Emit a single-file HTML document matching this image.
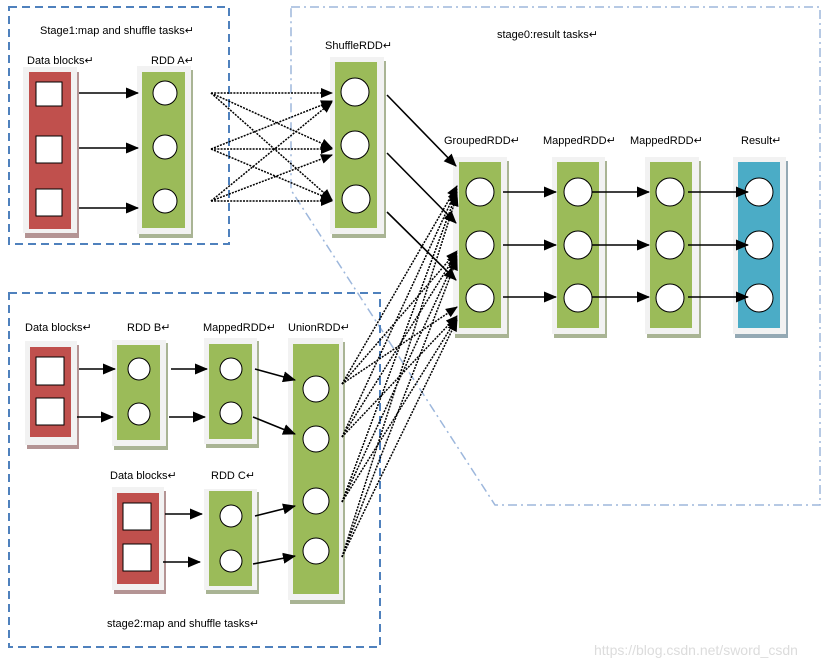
<!DOCTYPE html>
<html><head><meta charset="utf-8"><style>
html,body{margin:0;padding:0;background:#fff;}
svg{display:block;}
text{font-family:"Liberation Sans",sans-serif;font-size:11px;fill:#000;}
</style></head><body>
<svg width="832" height="667" viewBox="0 0 832 667" xmlns="http://www.w3.org/2000/svg">
<defs>
<marker id="a" markerWidth="12" markerHeight="10" refX="11" refY="5" orient="auto" markerUnits="userSpaceOnUse"><path d="M0,0 L12,5 L0,10 z" fill="#000"/></marker>
<marker id="b" markerWidth="13" markerHeight="11" refX="12" refY="5.5" orient="auto" markerUnits="userSpaceOnUse"><path d="M0,0 L13,5.5 L0,11 z" fill="#000"/></marker>
</defs>

<rect x="9" y="7" width="220" height="237" fill="none" stroke="#4f81bd" stroke-width="2" stroke-dasharray="8,5"/>
<path d="M291,7 L820,7 L820,505 L495,505 L291,190 Z" fill="none" stroke="#9db7dc" stroke-width="1.5" stroke-dasharray="9,4,2,4"/>
<rect x="9" y="293" width="371" height="354" fill="none" stroke="#4f81bd" stroke-width="2" stroke-dasharray="8,5"/>

<text x="40" y="34">Stage1:map and shuffle tasks↵</text>
<text x="497" y="38">stage0:result tasks↵</text>
<text x="107" y="627">stage2:map and shuffle tasks↵</text>

<g>
<rect x="25" y="72" width="54" height="166" fill="#b49494"/>
<rect x="23" y="67" width="54" height="166" fill="#f2f2f2"/>
<rect x="29" y="72" width="42" height="157" fill="#c0504d"/>
<rect x="36" y="82" width="26" height="24" fill="#fff" stroke="#000"/>
<rect x="36" y="136" width="26" height="27" fill="#fff" stroke="#000"/>
<rect x="36" y="189" width="26" height="27" fill="#fff" stroke="#000"/>
<rect x="139" y="70" width="54" height="168" fill="#a9b494"/>
<rect x="137" y="66" width="54" height="168" fill="#f2f2f2"/>
<rect x="142" y="72" width="43" height="156" fill="#9bbb59"/>
<rect x="332" y="61" width="54" height="177" fill="#a9b494"/>
<rect x="330" y="57" width="54" height="177" fill="#f2f2f2"/>
<rect x="335" y="62" width="42" height="166" fill="#9bbb59"/>
<rect x="455" y="161" width="54" height="177" fill="#a9b494"/>
<rect x="453" y="157" width="54" height="177" fill="#f2f2f2"/>
<rect x="459" y="162" width="42" height="166" fill="#9bbb59"/>
<rect x="554" y="161" width="53" height="177" fill="#a9b494"/>
<rect x="552" y="157" width="53" height="177" fill="#f2f2f2"/>
<rect x="557" y="162" width="42" height="166" fill="#9bbb59"/>
<rect x="647" y="161" width="54" height="177" fill="#a9b494"/>
<rect x="645" y="157" width="54" height="177" fill="#f2f2f2"/>
<rect x="650" y="162" width="42" height="166" fill="#9bbb59"/>
<rect x="735" y="161" width="53" height="177" fill="#94a9b4"/>
<rect x="733" y="157" width="53" height="177" fill="#f2f2f2"/>
<rect x="738" y="162" width="42" height="166" fill="#4bacc6"/>

<rect x="27" y="345" width="52" height="104" fill="#b49494"/>
<rect x="25" y="341" width="52" height="104" fill="#f2f2f2"/>
<rect x="30" y="347" width="41" height="90" fill="#c0504d"/>
<rect x="36" y="357" width="28" height="28" fill="#fff" stroke="#000"/>
<rect x="36" y="398" width="28" height="27" fill="#fff" stroke="#000"/>
<rect x="114" y="343" width="54" height="107" fill="#a9b494"/>
<rect x="112" y="340" width="54" height="106" fill="#f2f2f2"/>
<rect x="117" y="345" width="43" height="95" fill="#9bbb59"/>
<rect x="206" y="341" width="53" height="107" fill="#a9b494"/>
<rect x="204" y="338" width="53" height="106" fill="#f2f2f2"/>
<rect x="209" y="344" width="43" height="95" fill="#9bbb59"/>
<rect x="290" y="342" width="55" height="262" fill="#a9b494"/>
<rect x="288" y="338" width="55" height="262" fill="#f2f2f2"/>
<rect x="293" y="344" width="46" height="250" fill="#9bbb59"/>
<rect x="114" y="491" width="52" height="103" fill="#b49494"/>
<rect x="112" y="487" width="52" height="103" fill="#f2f2f2"/>
<rect x="117" y="493" width="42" height="91" fill="#c0504d"/>
<rect x="123" y="503" width="28" height="27" fill="#fff" stroke="#000"/>
<rect x="123" y="544" width="28" height="27" fill="#fff" stroke="#000"/>
<rect x="206" y="492" width="53" height="102" fill="#a9b494"/>
<rect x="204" y="489" width="53" height="101" fill="#f2f2f2"/>
<rect x="209" y="491" width="43" height="95" fill="#9bbb59"/>
</g>

<g fill="#fff" stroke="#000" stroke-width="1">
<circle cx="165" cy="93" r="12"/><circle cx="165" cy="147" r="12"/><circle cx="165" cy="201" r="12"/>
<circle cx="355" cy="92" r="14"/><circle cx="355" cy="145" r="14"/><circle cx="356" cy="199" r="14"/>
<circle cx="480" cy="192" r="14"/><circle cx="480" cy="245" r="14"/><circle cx="480" cy="298" r="14"/>
<circle cx="578" cy="192" r="14"/><circle cx="578" cy="245" r="14"/><circle cx="578" cy="298" r="14"/>
<circle cx="670" cy="192" r="14"/><circle cx="670" cy="245" r="14"/><circle cx="670" cy="298" r="14"/>
<circle cx="759" cy="192" r="14"/><circle cx="759" cy="245" r="14"/><circle cx="759" cy="298" r="14"/>
<circle cx="139" cy="369" r="11"/><circle cx="139" cy="414" r="11"/>
<circle cx="231" cy="369" r="11"/><circle cx="231" cy="413" r="11"/>
<circle cx="316" cy="389" r="13"/><circle cx="316" cy="439" r="13"/><circle cx="316" cy="501" r="13"/><circle cx="316" cy="551" r="13"/>
<circle cx="231" cy="516" r="11"/><circle cx="231" cy="561" r="11"/>
</g>

<g stroke="#000" stroke-width="1.6" fill="none" marker-end="url(#b)">
<line x1="79" y1="93" x2="138" y2="93"/><line x1="79" y1="148" x2="138" y2="148"/><line x1="79" y1="208" x2="138" y2="208"/>
<line x1="387" y1="95" x2="456" y2="166"/><line x1="387" y1="153" x2="456" y2="223"/><line x1="387" y1="212" x2="456" y2="280"/>
<line x1="503" y1="192" x2="556" y2="192"/><line x1="503" y1="245" x2="556" y2="245"/><line x1="503" y1="297" x2="556" y2="297"/>
<line x1="592" y1="192" x2="649" y2="192"/><line x1="592" y1="245" x2="649" y2="245"/><line x1="592" y1="297" x2="649" y2="297"/>
<line x1="688" y1="192" x2="748" y2="192"/><line x1="688" y1="245" x2="748" y2="245"/><line x1="688" y1="297" x2="748" y2="297"/>
<line x1="79" y1="369" x2="115" y2="369"/><line x1="77" y1="417" x2="113" y2="417"/>
<line x1="171" y1="369" x2="207" y2="369"/><line x1="169" y1="417" x2="205" y2="417"/>
<line x1="255" y1="369" x2="295" y2="380"/><line x1="253" y1="417" x2="295" y2="434"/>
<line x1="165" y1="514" x2="202" y2="514"/><line x1="163" y1="562" x2="200" y2="562"/>
<line x1="255" y1="516" x2="295" y2="506"/><line x1="253" y1="564" x2="295" y2="556"/>
</g>

<g stroke="#000" stroke-width="1.5" fill="none" stroke-dasharray="2,1.2" marker-end="url(#a)">
<line x1="211" y1="93" x2="332" y2="93"/><line x1="211" y1="93" x2="332" y2="148"/><line x1="211" y1="93" x2="332" y2="200"/>
<line x1="211" y1="149" x2="332" y2="101"/><line x1="211" y1="149" x2="332" y2="149"/><line x1="211" y1="149" x2="332" y2="200"/>
<line x1="211" y1="201" x2="332" y2="102"/><line x1="211" y1="201" x2="332" y2="155"/><line x1="211" y1="201" x2="332" y2="201"/>
<line x1="342" y1="384" x2="457" y2="186"/><line x1="342" y1="384" x2="457" y2="251"/><line x1="342" y1="384" x2="457" y2="307"/>
<line x1="342" y1="437" x2="457" y2="189"/><line x1="342" y1="437" x2="457" y2="253"/><line x1="342" y1="437" x2="457" y2="316"/>
<line x1="342" y1="502" x2="457" y2="192"/><line x1="342" y1="502" x2="457" y2="256"/><line x1="342" y1="502" x2="457" y2="318"/>
<line x1="342" y1="557" x2="457" y2="195"/><line x1="342" y1="557" x2="457" y2="259"/><line x1="342" y1="557" x2="457" y2="320"/>
</g>

<text x="27" y="64">Data blocks↵</text>
<text x="151" y="64">RDD A↵</text>
<text x="325" y="49">ShuffleRDD↵</text>
<text x="444" y="144">GroupedRDD↵</text>
<text x="543" y="144">MappedRDD↵</text>
<text x="630" y="144">MappedRDD↵</text>
<text x="741" y="144">Result↵</text>
<text x="25" y="331">Data blocks↵</text>
<text x="127" y="331">RDD B↵</text>
<text x="203" y="331">MappedRDD↵</text>
<text x="288" y="331">UnionRDD↵</text>
<text x="110" y="479">Data blocks↵</text>
<text x="211" y="479">RDD C↵</text>

<text x="594" y="655" style="font-size:14px;fill:#dcdcdc">https://blog.csdn.net/sword_csdn</text>
</svg>
</body></html>
